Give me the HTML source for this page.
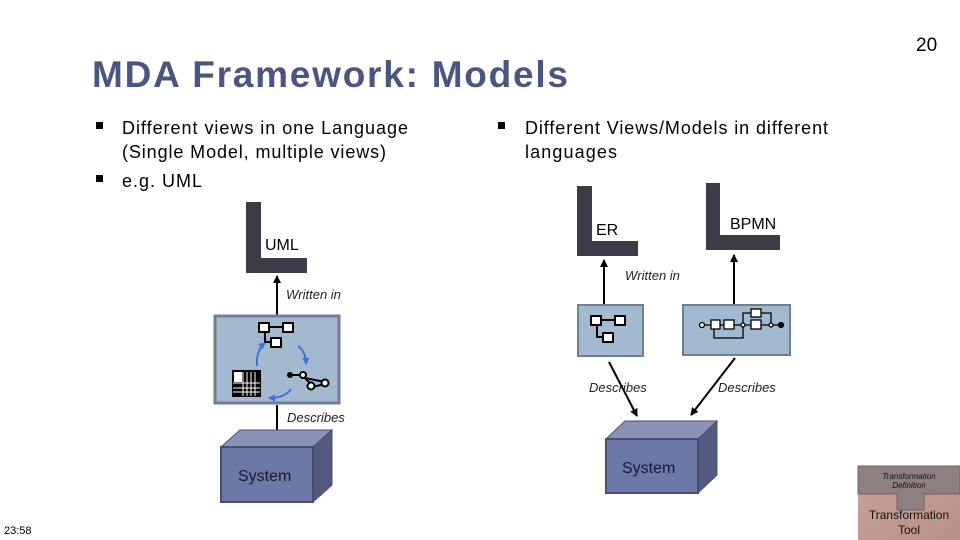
<!DOCTYPE html>
<html><head><meta charset="utf-8"><style>
html,body{margin:0;padding:0;background:#fff;}
svg{display:block;}
text{font-family:"Liberation Sans",Arial,sans-serif;}
</style></head><body>
<svg width="960" height="540" viewBox="0 0 960 540" xmlns="http://www.w3.org/2000/svg">
<defs>
<marker id="ah" markerWidth="8" markerHeight="8" refX="7" refY="4" orient="auto" markerUnits="userSpaceOnUse"><path d="M0,0 L8,4 L0,8 z" fill="#000"/></marker>
<marker id="bl" markerWidth="7" markerHeight="7" refX="6" refY="3.5" orient="auto" markerUnits="userSpaceOnUse"><path d="M0,0 L7,3.5 L0,7 z" fill="#3a6fe0"/></marker>
<linearGradient id="tt" x1="0" y1="0" x2="1" y2="1"><stop offset="0" stop-color="#c8a49c"/><stop offset="1" stop-color="#b99088"/></linearGradient>
</defs>
<text x="916" y="51" font-size="19" fill="#000">20</text>
<text x="92" y="87" font-size="37" fill="#4a5580" style="font-weight:bold" textLength="476" lengthAdjust="spacing">MDA Framework: Models</text>
<g font-size="18" fill="#000">
<rect x="96" y="122" width="7" height="7" fill="#000"/>
<text x="122" y="134" textLength="286" lengthAdjust="spacing">Different views in one Language</text>
<text x="122" y="158" textLength="264" lengthAdjust="spacing">(Single Model, multiple views)</text>
<rect x="96" y="175" width="7" height="7" fill="#000"/>
<text x="122" y="187" textLength="80" lengthAdjust="spacing">e.g. UML</text>
<rect x="498" y="122" width="7" height="7" fill="#000"/>
<text x="525" y="134" textLength="303" lengthAdjust="spacing">Different Views/Models in different</text>
<text x="525" y="158" textLength="92" lengthAdjust="spacing">languages</text>
</g>
<path d="M246,202 H261 V258 H307 V273 H246 Z" fill="#3c3c46"/>
<text x="265" y="250" font-size="16">UML</text>
<line x1="277" y1="315" x2="277" y2="276" stroke="#000" stroke-width="2" marker-end="url(#ah)"/>
<text x="286" y="299" font-size="13" font-style="italic" fill="#222">Written in</text>
<rect x="215" y="316" width="124" height="87" fill="#a3b9d0" stroke="#6f7f90" stroke-width="3"/>
<g stroke="#000" stroke-width="2" fill="#fff">
<rect x="259" y="323" width="10" height="9"/><rect x="283" y="323" width="10" height="9"/><rect x="271" y="338" width="10" height="9"/>
<line x1="269" y1="327" x2="283" y2="327"/><path d="M265,332 V342 H271" fill="none"/>
</g>
<rect x="232" y="370" width="29" height="27" fill="#000"/>
<g stroke="#fff" stroke-width="1"><line x1="243" y1="372" x2="243" y2="396"/><line x1="247" y1="372" x2="247" y2="396"/><line x1="251" y1="372" x2="251" y2="396"/><line x1="255" y1="372" x2="255" y2="396"/><line x1="233" y1="383" x2="260" y2="383"/><line x1="233" y1="388" x2="260" y2="388"/><line x1="233" y1="392" x2="260" y2="392"/></g>
<rect x="234" y="372" width="8" height="10" fill="#fff"/>
<g stroke="#000" stroke-width="2" fill="#fff"><line x1="290" y1="375" x2="302" y2="375"/><line x1="302" y1="375" x2="312" y2="385"/><line x1="305" y1="378" x2="325" y2="382"/><line x1="312" y1="387" x2="325" y2="384"/><circle cx="290" cy="375" r="2" fill="#000"/><circle cx="303" cy="375" r="3"/><circle cx="311" cy="386" r="3.5"/><circle cx="325" cy="383" r="3.5"/></g>
<g fill="none" stroke="#3a6fe0" stroke-width="2">
<path d="M257,366 Q256,350 265,343" marker-end="url(#bl)"/>
<path d="M298,346 Q306,352 306,364" marker-end="url(#bl)"/>
<path d="M291,389 Q285,398 269,398" marker-end="url(#bl)"/>
</g>
<line x1="277" y1="405" x2="277" y2="438" stroke="#000" stroke-width="2" marker-end="url(#ah)"/>
<text x="287" y="422" font-size="13" font-style="italic" fill="#222">Describes</text>
<polygon points="221,447 240,430 332,430 313,447" fill="#8a92b8" stroke="#4a4e6e"/>
<polygon points="313,447 332,430 332,485 313,502" fill="#535a80" stroke="#4a4e6e"/>
<rect x="221" y="447" width="92" height="55" fill="#6e78a6" stroke="#4a4e6e" stroke-width="2"/>
<text x="238" y="481" font-size="16" fill="#151830">System</text>
<path d="M577,186 H592 V241 H638 V256 H577 Z" fill="#3c3c46"/>
<text x="596" y="235" font-size="16">ER</text>
<path d="M706,183 H720 V235 H780 V250 H706 Z" fill="#3c3c46"/>
<text x="730" y="229" font-size="16">BPMN</text>
<line x1="604" y1="304" x2="604" y2="260" stroke="#000" stroke-width="2" marker-end="url(#ah)"/>
<line x1="734" y1="304" x2="734" y2="255" stroke="#000" stroke-width="2" marker-end="url(#ah)"/>
<text x="625" y="280" font-size="13" font-style="italic" fill="#222">Written in</text>
<rect x="578" y="305" width="65" height="51" fill="#a3b9d0" stroke="#6f7f90" stroke-width="2"/>
<g stroke="#000" stroke-width="2" fill="#fff">
<rect x="591" y="316" width="10" height="9"/><rect x="615" y="316" width="10" height="9"/><rect x="603" y="333" width="10" height="9"/>
<line x1="601" y1="320" x2="615" y2="320"/><path d="M597,325 V337 H603" fill="none"/>
</g>
<rect x="683" y="305" width="107" height="50" fill="#a3b9d0" stroke="#6f7f90" stroke-width="2"/>
<g stroke="#000" stroke-width="1.3" fill="#fff">
<line x1="702" y1="325" x2="781" y2="325"/>
<path d="M714,329 V338 H743 V325" fill="none"/>
<path d="M743,325 V313 H771 V325" fill="none"/>
<rect x="711" y="320" width="9" height="9"/><rect x="724" y="320" width="10" height="9"/>
<rect x="751" y="309" width="10" height="8"/><rect x="751" y="320" width="10" height="9"/>
<circle cx="702" cy="325" r="2.5"/><circle cx="743" cy="325" r="2"/><circle cx="771" cy="325" r="2"/>
<circle cx="781" cy="325" r="2.5" fill="#000"/>
</g>
<line x1="609" y1="362" x2="637" y2="416" stroke="#000" stroke-width="2" marker-end="url(#ah)"/>
<line x1="735" y1="358" x2="691" y2="415" stroke="#000" stroke-width="2" marker-end="url(#ah)"/>
<text x="589" y="392" font-size="13" font-style="italic" fill="#222">Describes</text>
<text x="718" y="392" font-size="13" font-style="italic" fill="#222">Describes</text>
<polygon points="606,439 625,421 717,421 698,439" fill="#8a92b8" stroke="#4a4e6e"/>
<polygon points="698,439 717,421 717,475 698,493" fill="#535a80" stroke="#4a4e6e"/>
<rect x="606" y="439" width="92" height="54" fill="#6e78a6" stroke="#4a4e6e" stroke-width="2"/>
<text x="622" y="473" font-size="16" fill="#151830">System</text>
<rect x="858" y="466" width="102" height="74" fill="url(#tt)"/>
<path d="M858,466 H960 V494 H924 V510 H897 V494 H858 Z" fill="#8e8080" stroke="#6e6262"/>
<text x="909" y="479" font-size="8" font-style="italic" text-anchor="middle" fill="#111">Transformation</text>
<text x="909" y="488" font-size="8" font-style="italic" text-anchor="middle" fill="#111">Definition</text>
<text x="909" y="519" font-size="12" text-anchor="middle" fill="#111">Transformation</text>
<text x="909" y="534" font-size="12" text-anchor="middle" fill="#111">Tool</text>
<text x="4" y="534" font-size="11" fill="#000">23:58</text>
</svg>
</body></html>
